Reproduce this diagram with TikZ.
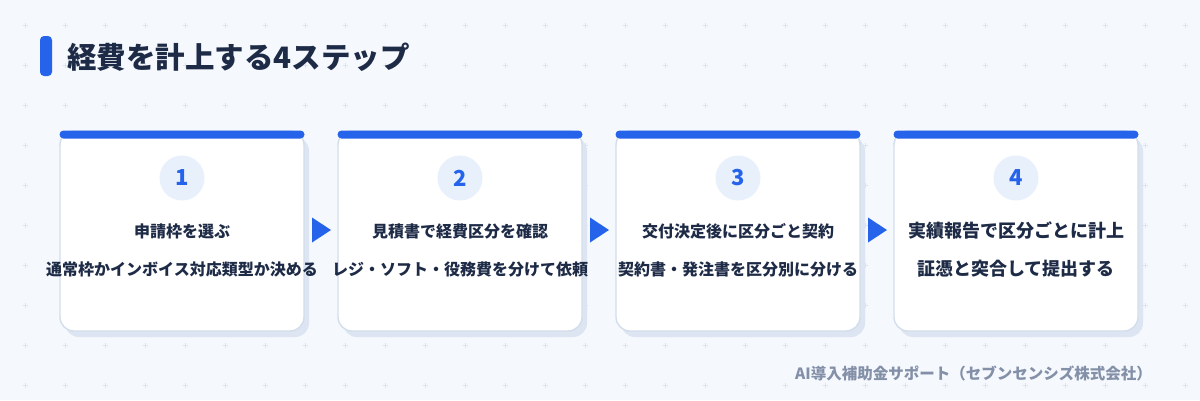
\documentclass[tikz,border=0pt]{standalone}
\usepackage{fontspec}
\setmainfont{Noto Sans CJK JP}
\usetikzlibrary{calc}

\definecolor{pagebg}{HTML}{F5F8FD}
\definecolor{gridmark}{HTML}{DDE4EF}
\definecolor{mainblue}{HTML}{2563EB}
\definecolor{numbg}{HTML}{E8F0FC}
\definecolor{inkdark}{HTML}{1E2B47}
\definecolor{cardline}{HTML}{D3DEEC}
\definecolor{shadowc}{HTML}{DCE5F1}
\definecolor{footgray}{HTML}{8390A8}

\tikzset{
  card/.style={draw=cardline, line width=1.4pt, fill=white, rounded corners=14pt,
    minimum width=244pt, minimum height=200pt, inner sep=0pt},
  cardshadow/.style={fill=shadowc, rounded corners=14pt,
    minimum width=244pt, minimum height=200pt, inner sep=0pt},
  topbar/.style={fill=mainblue, rounded corners=4pt,
    minimum width=245pt, minimum height=8pt, inner sep=0pt},
  stepnum/.style={circle, fill=numbg, minimum size=45pt, inner sep=0pt,
    text=mainblue, font=\fontsize{22}{26}\selectfont\bfseries},
  stephead/.style={text=inkdark, inner sep=0pt, font=\fontsize{16}{20}\selectfont\bfseries},
  stepbody/.style={text=inkdark, inner sep=0pt, font=\fontsize{16}{20}\selectfont\bfseries},
  stepbig/.style={font=\fontsize{18}{22}\selectfont\bfseries},
  steptip/.style={fill=mainblue}
}

\begin{document}
\begin{tikzpicture}[x=1pt, y=-1pt]
\fill[pagebg] (0,0) rectangle (1200,400);
\useasboundingbox (0,0) rectangle (1200,400);

% background marks
\foreach \i in {0,...,29}
  \foreach \j in {0,...,9}
    \draw[gridmark, line width=0.8pt] (25+40*\i-2.5,25+40*\j) -- ++(5,0)
      (25+40*\i,25+40*\j-2.5) -- ++(0,5);

% title
\fill[mainblue, rounded corners=4pt] (40,36) rectangle (52,76);
\node[anchor=west, inner sep=0pt, text=inkdark, font=\fontsize{29.5}{34}\selectfont\bfseries]
  (title) at (67,57) {経費を計上する4ステップ};

% cards
\node[cardshadow] at (187,237) {};
\node[card] (c1) at (182,231) {};
\node[topbar, anchor=north] at (c1.north) {};
\node[stepnum] (n1) at (182,178) {1};
\node[stephead] (h1) at (182,231) {申請枠を選ぶ};
\node[stepbody] (b1) at (182,269) {通常枠かインボイス対応類型か決める};

\node[cardshadow] at (465,237) {};
\node[card] (c2) at (460,231) {};
\node[topbar, anchor=north] at (c2.north) {};
\node[stepnum] (n2) at (460,178) {2};
\node[stephead] (h2) at (460,231) {見積書で経費区分を確認};
\node[stepbody] (b2) at (460,269) {レジ・ソフト・役務費を分けて依頼};

\node[cardshadow] at (743,237) {};
\node[card] (c3) at (738,231) {};
\node[topbar, anchor=north] at (c3.north) {};
\node[stepnum] (n3) at (738,178) {3};
\node[stephead] (h3) at (738,231) {交付決定後に区分ごと契約};
\node[stepbody] (b3) at (738,269) {契約書・発注書を区分別に分ける};

\node[cardshadow] at (1021,237) {};
\node[card] (c4) at (1016,231) {};
\node[topbar, anchor=north] at (c4.north) {};
\node[stepnum] (n4) at (1016,178) {4};
\node[stephead, stepbig] (h4) at (1016,231) {実績報告で区分ごとに計上};
\node[stepbody, stepbig] (b4) at (1016,269) {証憑と突合して提出する};

% arrows between cards
\coordinate (m12) at ($(c1.east)!0.5!(c2.west)+(0.5,-1)$);
\coordinate (m23) at ($(c2.east)!0.5!(c3.west)+(0.5,-1)$);
\coordinate (m34) at ($(c3.east)!0.5!(c4.west)+(0.5,-1)$);
\fill[steptip] ($(m12)+(-9.5,-12.5)$) -- ($(m12)+(9.5,0)$) -- ($(m12)+(-9.5,12.5)$) -- cycle;
\fill[steptip] ($(m23)+(-9.5,-12.5)$) -- ($(m23)+(9.5,0)$) -- ($(m23)+(-9.5,12.5)$) -- cycle;
\fill[steptip] ($(m34)+(-9.5,-12.5)$) -- ($(m34)+(9.5,0)$) -- ($(m34)+(-9.5,12.5)$) -- cycle;

% footer
\node[anchor=east, inner sep=0pt, text=footgray, font=\fontsize{15.5}{18}\selectfont\bfseries]
  (foot) at (1152,373) {AI導入補助金サポート（セブンセンシズ株式会社）};
\end{tikzpicture}
\end{document}
